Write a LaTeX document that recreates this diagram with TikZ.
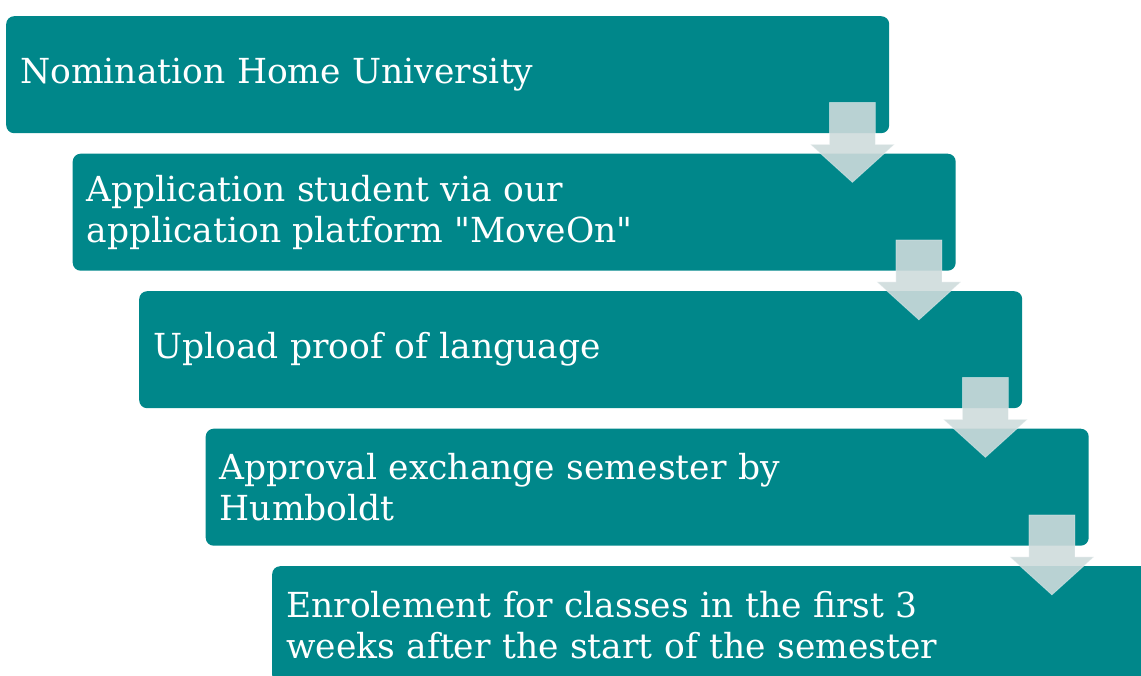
\documentclass[tikz,border=0pt]{standalone}
\usepackage{fontspec}
\newfontfamily\boxfont{DejaVu Serif}
\definecolor{teal1}{HTML}{00878A}
\definecolor{arrowc}{RGB}{206,219,220}
\begin{document}
\begin{tikzpicture}[x=1pt,y=-1pt,
  stepbox/.style={fill=teal1, rounded corners=8pt, anchor=north west,
    minimum width=883pt, minimum height=117pt, text width=855pt, inner xsep=14pt,
    align=left, text=white, font=\boxfont\fontsize{34.5}{41}\selectfont},
  steparrow/.style={fill=arrowc, fill opacity=0.9, draw=white, draw opacity=0.35, line width=0.8pt}]
\useasboundingbox (0,0) rectangle (1141,675);
\node[stepbox] (b1) at (6,16) {Nomination Home University};
\node[stepbox] (b2) at (72.5,153.5) {Application student via our\\application platform "MoveOn"};
\node[stepbox] (b3) at (139,291) {Upload proof of language};
\node[stepbox] (b4) at (205.5,428.5) {Approval exchange semester by\\Humboldt};
\node[stepbox] (b5) at (272,566) {Enrolement for classes in the first 3\\weeks after the start of the semester};
\foreach \n in {b1,b2,b3,b4}{
  \draw[steparrow] ([shift={(-60,-31)}]\n.south east) -- ([shift={(-14,-31)}]\n.south east)
    -- ([shift={(-14,11)}]\n.south east) -- ([shift={(5,11)}]\n.south east)
    -- ([shift={(-37,49)}]\n.south east) -- ([shift={(-79,11)}]\n.south east)
    -- ([shift={(-60,11)}]\n.south east) -- cycle;
}
\end{tikzpicture}
\end{document}
